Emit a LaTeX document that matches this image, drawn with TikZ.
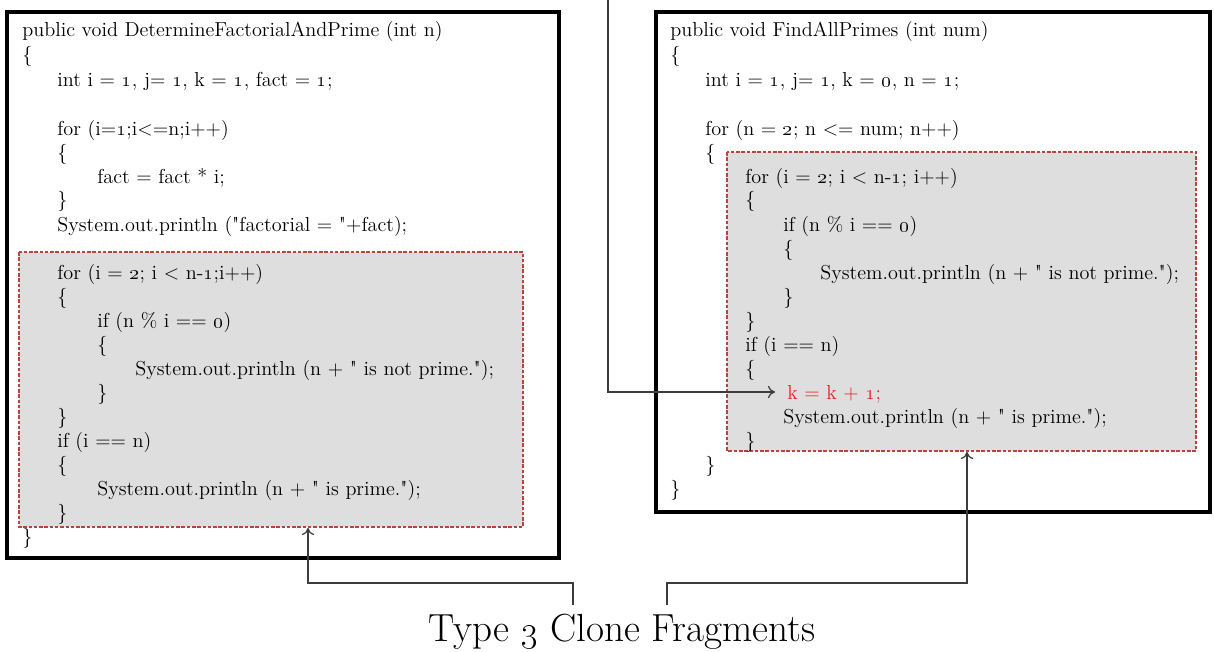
\documentclass[tikz,border=0pt]{standalone}
\usepackage{tikz}
\usetikzlibrary{arrows.meta}

\definecolor{clonefill}{RGB}{222,222,222}
\definecolor{cloneedge}{RGB}{180,70,60}
\definecolor{connline}{RGB}{60,60,60}
\definecolor{hilite}{RGB}{230,30,30}

\newcommand{\os}[1]{\oldstylenums{#1}}
\newcommand{\q}{\textquotedbl}
\newcommand{\codefont}{\fontsize{11.5}{13}\selectfont}

\tikzset{
	code/.style={anchor=base west, inner sep=0pt, font=\codefont},
	outerbox/.style={draw=black, line width=2.3pt},
	clonebox/.style={draw=cloneedge, fill=clonefill, line width=0.6pt, dash pattern=on 2pt off 1pt},
	conn/.style={draw=connline, line width=0.7pt},
}

\begin{document}
\begin{tikzpicture}[x=0.02cm, y=-0.02cm]
		\useasboundingbox (0, 0) rectangle (1214, 652);
		% the two methods
		\draw[outerbox] (7, 12) rectangle (559, 558);
		\draw[outerbox] (656, 12) rectangle (1210, 512);
		% clone fragments
		\draw[clonebox] (19, 252) rectangle (523, 527);
		\draw[clonebox] (727, 152) rectangle (1196, 451);
		% left method
		\foreach [count=\i] \x/\y/\t in {
			22/30/{public void DetermineFactorialAndPrime (int n)},
			22/55/{\{},
			57/80/{int i = \os{1}, j= \os{1}, k = \os{1}, fact = \os{1};},
			57/128/{for (i=\os{1};i<=n;i++)},
			57/152/{\{},
			97/176/{fact = fact * i;},
			57/199/{\}},
			57/224/{System.out.println (\q factorial = \q+fact);},
			57/272/{for (i = \os{2}; i < n-\os{1};i++)},
			57/296/{\{},
			97/320/{if (n \% i == \os{0})},
			97/344/{\{},
			135/368/{System.out.println (n + \q\ is not prime.\q);},
			97/392/{\}},
			57/416/{\}},
			57/440/{if (i == n)},
			57/464/{\{},
			97/488/{System.out.println (n + \q\ is prime.\q);},
			57/512/{\}},
			22/536/{\}}} {
			\node[code] (a\i) at (\x, \y+7) {\t};
		};
		% right method
		\foreach [count=\i] \x/\y/\t in {
			670/30/{public void FindAllPrimes (int num)},
			670/55/{\{},
			705/80/{int i = \os{1}, j= \os{1}, k = \os{0}, n = \os{1};},
			705/128/{for (n = \os{2}; n <= num; n++)},
			705/152/{\{},
			745/176/{for (i = \os{2}; i < n-\os{1}; i++)},
			745/199/{\{},
			783/224/{if (n \% i == \os{0})},
			783/248/{\{},
			820/272/{System.out.println (n + \q\ is not prime.\q);},
			783/296/{\}},
			745/320/{\}},
			745/344/{if (i == n)},
			745/368/{\{},
			783/416/{System.out.println (n + \q\ is prime.\q);},
			745/440/{\}},
			705/464/{\}},
			670/488/{\}}} {
			\node[code] (b\i) at (\x, \y+7) {\t};
		};
		\node[code, text=hilite] (kline) at (787, 399) {k = k + \os{1};};
		% caption and connectors
		\node[font=\fontsize{22.3}{26}\selectfont, inner sep=0pt] (title) at (622, 632) {Type \os{3} Clone Fragments};
		\coordinate (ltail) at (573, 605);
		\coordinate (rtail) at (667, 605);
		\coordinate (lclone) at (308, 528);
		\coordinate (rclone) at (967, 452);
		\coordinate (top) at (608, 0);
		\coordinate (ktip) at (775, 392);
		\draw[conn, -{To[length=4pt, width=7pt]}] (ltail) -- ++(0, -22) -| (lclone);
		\draw[conn, -{To[length=4pt, width=7pt]}] (rtail) -- ++(0, -22) -| (rclone);
		\draw[conn, -{To[length=4pt, width=7pt]}] (top) |- (ktip);
	\end{tikzpicture}
\end{document}
